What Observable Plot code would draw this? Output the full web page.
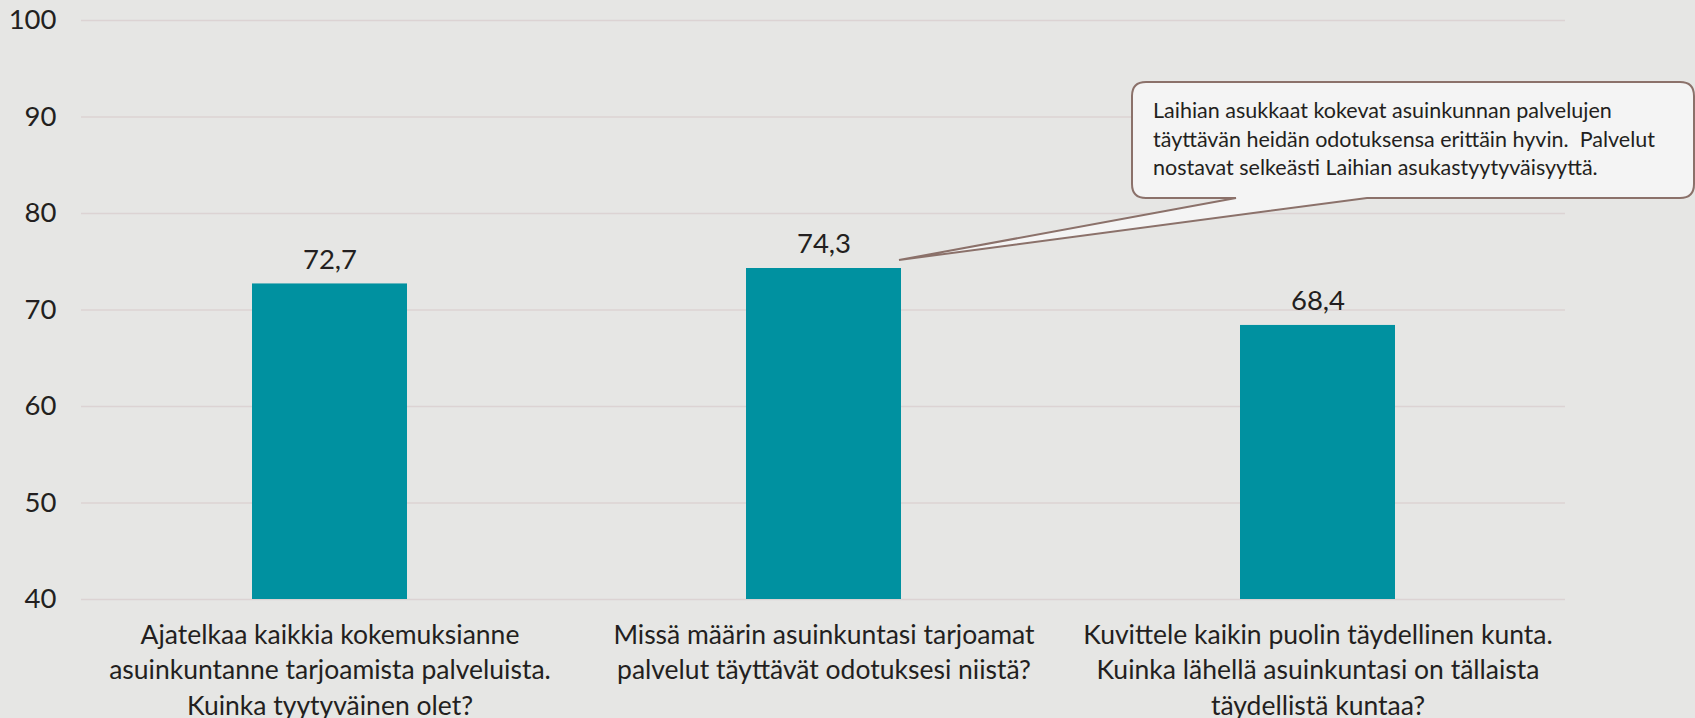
<!DOCTYPE html>
<html><head><meta charset="utf-8">
<script src="https://cdn.jsdelivr.net/npm/d3@7"></script>
<script src="https://cdn.jsdelivr.net/npm/@observablehq/plot@0.6"></script>
<style>
html,body{margin:0;padding:0;background:#e6e6e4;overflow:hidden;}
</style></head><body><div id="chart"></div>
<script>
const categories = [
  "Ajatelkaa kaikkia kokemuksianne\nasuinkuntanne tarjoamista palveluista.\nKuinka tyytyväinen olet?",
  "Missä määrin asuinkuntasi tarjoamat\npalvelut täyttävät odotuksesi niistä?",
  "Kuvittele kaikin puolin täydellinen kunta.\nKuinka lähellä asuinkuntasi on tällaista\ntäydellistä kuntaa?"
];
const values = [72.7, 74.3, 68.4];
const valueLabels = ["72,7", "74,3", "68,4"];
const yTicks = [40, 50, 60, 70, 80, 90, 100];
const calloutLines = [
  "Laihian asukkaat kokevat asuinkunnan palvelujen",
  "täyttävän heidän odotuksensa erittäin hyvin.  Palvelut",
  "nostavat selkeästi Laihian asukastyytyväisyyttä."
];
const calloutIndex = 1;

const rows = categories.map((c, i) => ({cat: c, value: values[i], label: valueLabels[i]}));
const yMin = yTicks[0];
const FONT = "Lato, 'Open Sans', sans-serif";
const TEXT = "#231f20";
const PAD_INNER = 0.687, PAD_OUTER = 0.3435;

function callout(index, scales, vals, dims) {
  const g = d3.create("svg:g");
  const cat = categories[calloutIndex];
  let bw = scales.x.bandwidth;
  if (typeof bw === "function") bw = bw();
  if (!(bw > 0) && scales.scales && scales.scales.x) bw = scales.scales.x.bandwidth;
  if (!(bw > 0)) {
    const inner = dims.width - dims.marginLeft - dims.marginRight;
    const step = inner / (categories.length - PAD_INNER + 2 * PAD_OUTER);
    bw = step * (1 - PAD_INNER);
  }
  const tipX = scales.x(cat) + bw - 2;
  const tipY = scales.y(values[calloutIndex]) - 8;
  const x1 = dims.width - 1, x0 = x1 - 562;
  const y0 = 82, y1 = 198, r = 14;
  const bA = x0 + 104, bB = x0 + 235;
  const path = `M${x0 + r},${y0} H${x1 - r} Q${x1},${y0} ${x1},${y0 + r} V${y1 - r} Q${x1},${y1} ${x1 - r},${y1} H${bB} L${tipX},${tipY} L${bA},${y1} H${x0 + r} Q${x0},${y1} ${x0},${y1 - r} V${y0 + r} Q${x0},${y0} ${x0 + r},${y0} Z`;
  g.append("path").attr("d", path).attr("fill", "#f4f4f4").attr("stroke", "#8b716a").attr("stroke-width", 2);
  const t = g.append("text").attr("font-family", FONT).attr("font-size", 21.5).attr("fill", TEXT)
    .attr("text-anchor", "start").style("white-space", "pre");
  calloutLines.forEach((line, i) => {
    t.append("tspan").attr("x", x0 + 21).attr("y", 118 + i * 28.5).text(line);
  });
  return g.node();
}

const chart = Plot.plot({
  width: 1695,
  height: 718,
  marginTop: 20,
  marginBottom: 119,
  marginLeft: 81,
  marginRight: 130,
  style: {background: "#e6e6e4", fontFamily: FONT, fontSize: "26px", color: TEXT, overflow: "visible"},
  x: {domain: categories, paddingInner: PAD_INNER, paddingOuter: PAD_OUTER, label: null},
  y: {domain: [yMin, yTicks[yTicks.length - 1]], label: null},
  marks: [
    Plot.gridY(yTicks, {stroke: "#dcd3d3", strokeOpacity: 1, strokeWidth: 1.5}),
    Plot.barY(rows, {x: "cat", y1: yMin, y2: "value", fill: "#0091a0"}),
    Plot.text(rows, {x: "cat", y: "value", text: "label", dy: -24, lineAnchor: "middle", fontSize: 27.5, fill: TEXT}),
    Plot.axisY(yTicks, {tickSize: 0, tickPadding: 25, fontSize: 27.5, label: null, fill: TEXT}),
    Plot.axisX({tickSize: 0, tickPadding: 19, fontSize: 26.5, lineHeight: 1.34, label: null, fill: TEXT}),
    callout
  ]
});
document.getElementById("chart").appendChild(chart);
</script>
</body></html>
